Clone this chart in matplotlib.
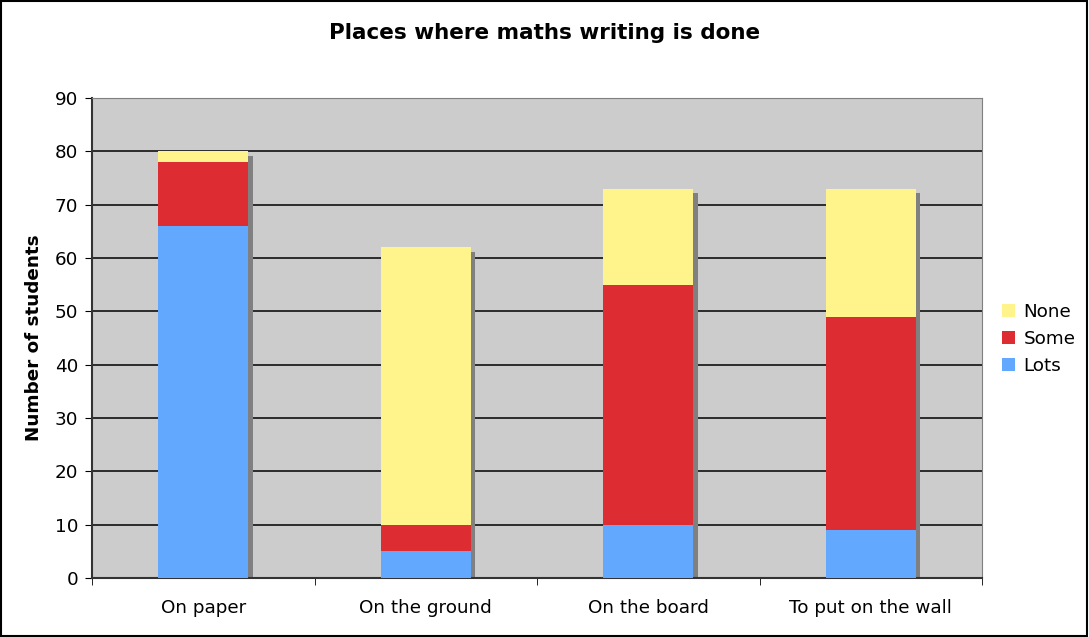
import numpy as np
import matplotlib
matplotlib.use('Agg')
import matplotlib.pyplot as plt
import matplotlib.patches as patches
import matplotlib.patheffects as pe

plt.rcParams['font.family'] = 'DejaVu Sans'

# --- Data ---
categories = ['On paper', 'On the ground', 'On the board', 'To put on the wall']
lots = [66, 5, 10, 9]
some = [12, 5, 45, 40]
none = [2, 52, 18, 24]

c_lots = '#62A8FF'
c_some = '#DE2C33'
c_none = '#FFF48C'

fs = 13.2

fig = plt.figure(figsize=(10.89, 6.37), dpi=100)
ax = fig.add_axes([92/1089, 59/637, 890/1089, 480/637])
ax.set_facecolor('#CCCCCC')

x = np.arange(len(categories))
w = 0.405
lots_a = np.array(lots)
some_a = np.array(some)
none_a = np.array(none)
totals = lots_a + some_a + none_a

# shadow behind each stacked column
ax.bar(x, totals, w, color='none', edgecolor='none', zorder=2,
       path_effects=[pe.SimplePatchShadow(offset=(3.2, -3.2), shadow_rgbFace='#808080', alpha=1)])

ax.bar(x, lots_a, w, color=c_lots, label='Lots', zorder=3)
ax.bar(x, some_a, w, bottom=lots_a, color=c_some, label='Some', zorder=3)
ax.bar(x, none_a, w, bottom=lots_a + some_a, color=c_none, label='None', zorder=3)

ax.set_xlim(-0.5, len(categories) - 0.5)
ax.set_ylim(0, 90)
ax.set_yticks(np.arange(0, 91, 10))
ax.yaxis.grid(True, color='black', lw=1.1)
ax.set_axisbelow(True)

ax.set_xticks(x)
ax.set_xticklabels(categories, fontsize=fs)
ax.set_xticks(np.arange(-0.5, len(categories), 1), minor=True)
ax.tick_params(axis='x', which='major', length=0, pad=15)
ax.tick_params(axis='x', which='minor', length=5, direction='out', color='black')
ax.tick_params(axis='y', length=5, direction='out', labelsize=fs, pad=5)

for side in ['top', 'right']:
    ax.spines[side].set_color('#808080')
ax.spines['left'].set_color('#333333')
ax.spines['left'].set_linewidth(1.5)
ax.spines['bottom'].set_color('#333333')
ax.spines['bottom'].set_linewidth(1.5)

ax.set_ylabel('Number of students', fontsize=fs, fontweight='bold', labelpad=8)
fig.text(0.5, 1 - 33/637, 'Places where maths writing is done', ha='center', va='center',
         fontsize=15.5, fontweight='bold')

handles, labels = ax.get_legend_handles_labels()
fig.legend(handles[::-1], labels[::-1], loc='center left', bbox_to_anchor=(985/1089, 1 - 339/637),
           frameon=False, fontsize=fs, handlelength=0.75, handleheight=0.75, handletextpad=0.45,
           labelspacing=0.5)

fig.patches.append(patches.Rectangle((0.001, 0.002), 0.997, 0.996, transform=fig.transFigure,
                                     fill=False, edgecolor='black', lw=1.5))

fig.savefig('out.png', dpi=100)
